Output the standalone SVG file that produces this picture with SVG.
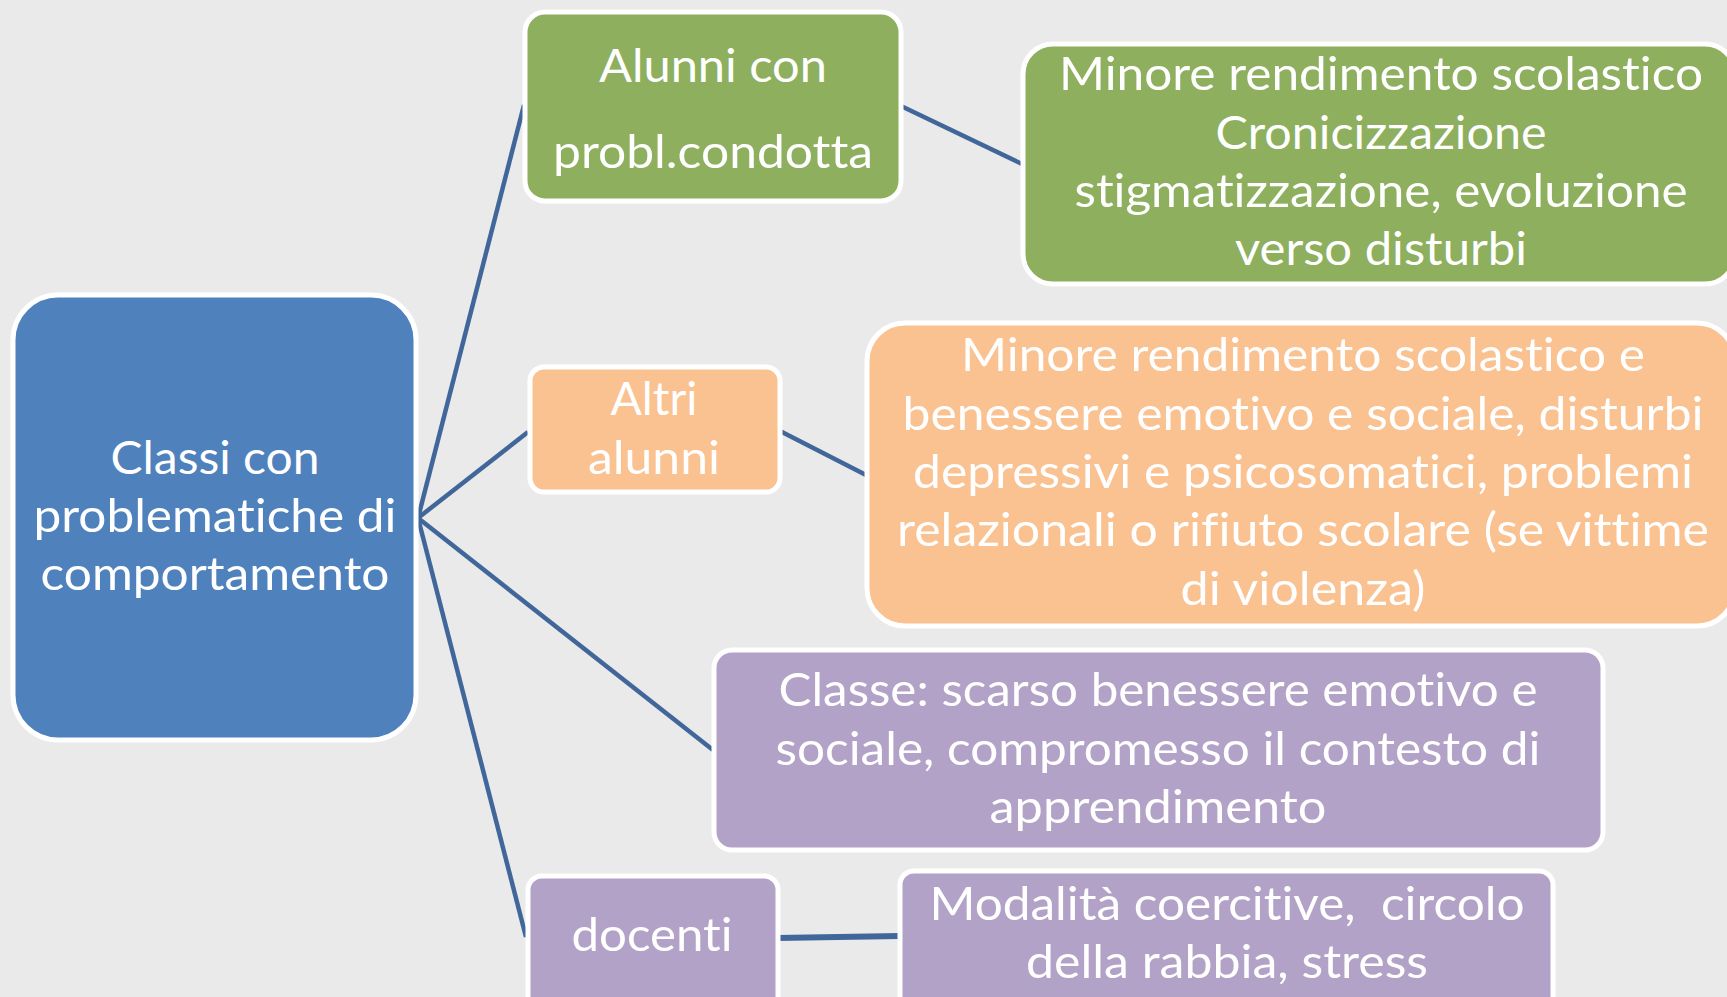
<svg xmlns="http://www.w3.org/2000/svg" width="1727" height="997" viewBox="0 0 1727 997">
<style>
.bg{fill:#EAEAEA}
.box{stroke:#FFFFFF;stroke-width:5}
.blue{fill:#4F81BD}
.green{fill:#8DAF5E}
.orange{fill:#FAC191}
.purple{fill:#B3A2C7}
.con{stroke:#41679A;stroke-width:4.5;fill:none}
text{font-family:Lato,"Liberation Sans",sans-serif;font-size:47px;fill:#FFFFFF;text-anchor:middle;font-variant-ligatures:none;font-feature-settings:"liga" 0;white-space:pre}
</style>
<rect class="bg" x="0" y="0" width="1727" height="997"/>
<g id="connectors">
<line class="con" x1="418" y1="518" x2="524" y2="105"/>
<line class="con" x1="418" y1="518" x2="528" y2="432"/>
<line class="con" x1="418" y1="518" x2="713" y2="750"/>
<line class="con" x1="418" y1="518" x2="526" y2="937"/>
<line class="con" x1="901" y1="106" x2="1022" y2="164"/>
<line class="con" x1="780" y1="431" x2="866" y2="475"/>
<line class="con" x1="777" y1="938" x2="900" y2="936" style="stroke-width:6"/>
</g>
<g id="n-center">
<rect class="box blue" x="13" y="295" width="403" height="445" rx="45"/>
<text x="215" y="474" textLength="209" lengthAdjust="spacingAndGlyphs">Classi con</text>
<text x="215" y="532" textLength="363" lengthAdjust="spacingAndGlyphs">problematiche di</text>
<text x="215" y="590" textLength="349" lengthAdjust="spacingAndGlyphs">comportamento</text>
</g>
<g id="n-alunni">
<rect class="box green" x="525" y="12" width="376" height="189" rx="20"/>
<text x="713" y="82" textLength="228" lengthAdjust="spacingAndGlyphs">Alunni con</text>
<text x="713" y="168" textLength="320" lengthAdjust="spacingAndGlyphs">probl.condotta</text>
</g>
<g id="n-alunni-eff">
<rect class="box green" x="1023" y="44" width="712" height="240" rx="30"/>
<text x="1381" y="90" textLength="644" lengthAdjust="spacingAndGlyphs">Minore rendimento scolastico</text>
<text x="1381" y="149" textLength="331" lengthAdjust="spacingAndGlyphs">Cronicizzazione</text>
<text x="1381" y="207" textLength="613" lengthAdjust="spacingAndGlyphs">stigmatizzazione, evoluzione</text>
<text x="1381" y="265" textLength="292" lengthAdjust="spacingAndGlyphs">verso disturbi</text>
</g>
<g id="n-altri">
<rect class="box orange" x="530" y="367" width="250" height="125" rx="14"/>
<text x="654" y="415" textLength="87" lengthAdjust="spacingAndGlyphs">Altri</text>
<text x="654" y="474" textLength="132" lengthAdjust="spacingAndGlyphs">alunni</text>
</g>
<g id="n-altri-eff">
<rect class="box orange" x="867" y="323" width="868" height="303" rx="38"/>
<text x="1303" y="371" textLength="684" lengthAdjust="spacingAndGlyphs">Minore rendimento scolastico e</text>
<text x="1303" y="430" textLength="801" lengthAdjust="spacingAndGlyphs">benessere emotivo e sociale, disturbi</text>
<text x="1303" y="488" textLength="780" lengthAdjust="spacingAndGlyphs">depressivi e psicosomatici, problemi</text>
<text x="1303" y="546" textLength="812" lengthAdjust="spacingAndGlyphs">relazionali o rifiuto scolare (se vittime</text>
<text x="1303" y="605" textLength="245" lengthAdjust="spacingAndGlyphs">di violenza)</text>
</g>
<g id="n-classe">
<rect class="box purple" x="714" y="650" width="889" height="200" rx="18"/>
<text x="1158" y="706" textLength="759" lengthAdjust="spacingAndGlyphs">Classe: scarso benessere emotivo e</text>
<text x="1158" y="765" textLength="765" lengthAdjust="spacingAndGlyphs">sociale, compromesso il contesto di</text>
<text x="1158" y="823" textLength="337" lengthAdjust="spacingAndGlyphs">apprendimento</text>
</g>
<g id="n-docenti">
<rect class="box purple" x="528" y="876" width="250" height="140" rx="14"/>
<text x="652" y="951" textLength="161" lengthAdjust="spacingAndGlyphs">docenti</text>
</g>
<g id="n-docenti-eff">
<rect class="box purple" x="900" y="871" width="653" height="145" rx="14"/>
<text x="1227" y="920" textLength="595" lengthAdjust="spacingAndGlyphs" xml:space="preserve">Modalità coercitive,  circolo</text>
<text x="1227" y="978" textLength="402" lengthAdjust="spacingAndGlyphs">della rabbia, stress</text>
</g>
</svg>
